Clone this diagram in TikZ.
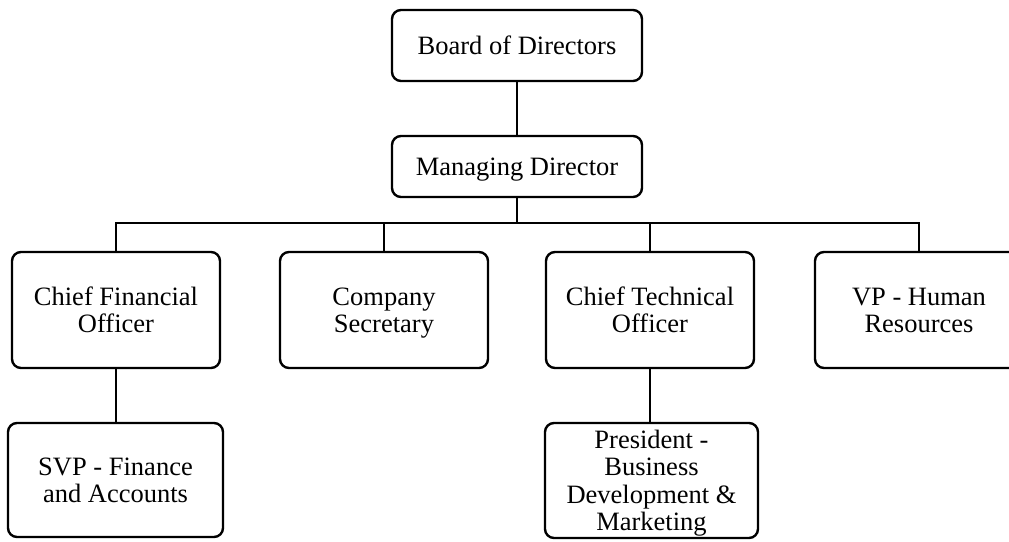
\documentclass[tikz,border=0pt]{standalone}
\usepackage{fontspec}
\setmainfont{Liberation Serif}
\newcommand\topst{\rule{0pt}{23.5pt}}
\newcommand\botst{\rule[-5.7pt]{0pt}{5.7pt}}
\begin{document}
\begin{tikzpicture}[x=1pt,y=-1pt,
  orgbox/.style={draw, line width=2.4pt, rounded corners=9pt, align=center, inner sep=0pt,
    font=\fontsize{26.5}{27.3}\selectfont},
  link/.style={line width=2.4pt}]
\useasboundingbox (0,0) rectangle (1009,541);
\clip (0,0) rectangle (1009,541);
\node[orgbox, minimum width=250pt, minimum height=71pt] (board) at (517,45.5) {\topst Board of Directors\botst};
\node[orgbox, minimum width=250pt, minimum height=61pt] (mgr) at (517,166.5) {\topst Managing Director\botst};
\node[orgbox, minimum width=208pt, minimum height=116pt] (cfo) at (116,310) {\topst Chief Financial\\Officer\botst};
\node[orgbox, minimum width=208pt, minimum height=116pt] (cs) at (384,310) {\topst Company\\Secretary\botst};
\node[orgbox, minimum width=208pt, minimum height=116pt] (cto) at (650,310) {\topst Chief Technical\\Officer\botst};
\node[orgbox, minimum width=208pt, minimum height=116pt] (vp) at (919,310) {\topst VP - Human\\Resources\botst};
\node[orgbox, minimum width=215pt, minimum height=114pt] (svp) at (115.5,480) {\topst SVP - Finance\\and Accounts\botst};
\node[orgbox, minimum width=213pt, minimum height=115pt] (pres) at (651.5,480.5) {\topst President -\\Business\\Development \&\\Marketing\botst};
\coordinate (bus) at (517,223);
\draw[link] (board) -- (mgr);
\draw[link] (mgr.south) -- (bus);
\draw[link] (cfo.north) -- (cfo.north |- bus) -- (vp.north |- bus) -- (vp.north);
\draw[link] (cs.north) -- (cs.north |- bus);
\draw[link] (cto.north) -- (cto.north |- bus);
\draw[link] (cfo.south) -- (svp.north -| cfo.south);
\draw[link] (cto.south) -- (pres.north -| cto.south);
\end{tikzpicture}
\end{document}
